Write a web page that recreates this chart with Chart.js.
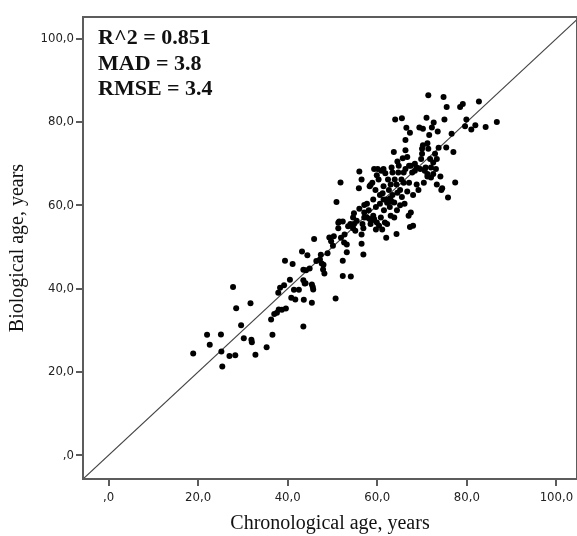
<!DOCTYPE html>
<html>
<head>
<meta charset="utf-8">
<script src="https://cdn.jsdelivr.net/npm/chart.js@4.4.1/dist/chart.umd.min.js"></script>
<style>
  html, body { margin: 0; padding: 0; background: #fff; }
  #wrap { width: 577px; height: 536px; }
</style>
</head>
<body>
<div id="wrap"><canvas id="c" width="577" height="536"></canvas></div>
<script>
// ---- data ----
const chronologicalAge = [
  18.9,22.0,22.6,25.1,25.2,25.4,27.0,28.3,27.8,28.5,29.6,30.2,31.7,31.9,32.0,32.8,35.3,36.6,36.3,37.0,
  37.6,38.0,38.7,39.6,38.3,39.2,39.4,40.5,41.1,41.4,40.8,41.7,43.5,43.6,43.2,44.4,43.5,44.1,44.9,43.5,
  43.8,45.4,45.6,45.7,45.9,46.4,47.2,47.6,47.9,48.2,48.9,49.3,49.7,50.3,50.1,50.7,50.9,51.5,51.3,51.8,
  52.3,52.3,52.6,53.2,53.2,52.3,53.5,54.1,54.6,54.8,55.4,55.9,56.0,56.5,56.5,56.5,56.9,56.7,57.1,57.1,
  57.7,57.7,58.1,58.3,58.5,58.9,59.1,59.1,59.3,59.6,59.7,59.7,60.1,60.3,60.6,60.6,60.8,61.1,61.4,61.4,
  61.5,61.8,62.0,62.0,62.2,62.4,62.6,62.8,63.0,63.2,63.4,63.4,63.7,63.8,64.0,64.3,64.3,64.4,64.7,64.8,
  65.1,65.5,65.5,65.9,66.1,66.3,66.3,66.5,66.7,66.7,67.0,67.1,67.3,67.3,67.5,67.5,67.8,68.0,68.4,68.8,
  69.2,69.4,69.8,70.0,70.2,70.4,70.6,70.8,71.0,71.2,71.4,71.4,71.6,71.8,72.0,72.2,72.5,72.6,72.9,73.1,
  73.3,73.5,73.7,74.1,74.3,74.5,74.8,75.0,75.4,75.5,75.8,76.6,77.0,77.4,78.5,79.1,79.6,79.9,81.0,81.9,
  82.7,84.2,86.7,
  58.3,58.7,59.3,59.9,60.4,61.7,62.9,62.2,63.0,63.9,65.4,65.7,64.5,60.9,59.9,58.5,61.4,61.2,63.2,65.1,
  63.8,57.1,56.0,54.6,54.0,55.1,56.9,68.4,69.6,71.2,72.0,72.5,73.3,68.8,68.0,70.2,71.2,70.0,67.1,66.3,
  65.9,64.5,54.8,51.3,51.9,52.7,47.4,48.0,45.4,44.0,42.5,37.9
];
const biologicalAge = [
  24.4,28.9,26.5,29.0,24.9,21.3,23.8,24.0,40.4,35.3,31.2,28.1,36.5,27.7,27.1,24.1,25.9,28.9,32.6,33.9,
  34.2,35.0,34.9,35.2,40.2,40.8,46.7,42.1,45.9,39.7,37.8,37.4,30.9,37.3,48.9,48.0,44.5,44.4,44.8,42.0,
  41.2,36.6,40.4,39.8,51.9,46.6,47.0,46.0,44.6,43.6,48.5,52.3,51.4,52.6,50.3,37.6,60.8,56.1,54.5,65.5,
  46.7,43.0,51.1,48.7,50.6,56.1,55.0,42.9,54.5,58.1,56.3,64.1,68.1,66.2,53.0,50.8,48.2,55.5,58.3,60.1,
  60.4,57.1,58.8,64.6,55.5,65.4,61.4,57.5,68.7,63.7,59.6,54.2,68.7,66.2,62.5,60.4,57.1,54.2,68.7,64.6,
  58.8,67.7,61.4,52.2,55.5,66.2,63.7,59.6,57.5,69.1,67.9,62.5,72.8,60.7,80.6,65.0,53.1,58.8,67.9,69.5,
  63.7,80.9,62.0,67.9,60.4,75.7,73.2,78.6,71.6,63.3,57.5,65.4,77.4,54.8,69.5,58.3,67.9,55.1,68.3,69.1,
  63.7,78.7,71.1,73.6,78.4,65.4,68.3,69.1,81.0,66.9,86.4,73.6,76.9,71.1,69.1,78.7,67.5,79.9,72.4,68.7,
  65.0,77.7,73.8,66.9,63.7,64.1,86.0,80.6,73.9,83.6,61.9,77.2,72.8,65.5,83.6,84.3,79.0,80.6,78.2,79.2,
  84.9,78.8,80.0,
  56.7,56.3,56.7,55.9,55.1,55.9,61.7,60.6,65.0,66.2,66.2,71.3,70.5,68.3,67.2,64.9,61.4,62.9,60.9,60.0,
  57.1,57.1,59.2,57.1,55.5,53.9,54.5,70.0,68.7,67.5,66.7,70.3,71.1,65.0,62.5,74.4,74.9,72.4,69.5,68.7,
  65.4,63.0,55.5,55.8,52.2,53.0,48.1,45.7,41.0,41.3,39.7,39.0
];
const axisTicks = [0, 20, 40, 60, 80, 100];
const axisTickLabels = [',0', '20,0', '40,0', '60,0', '80,0', '100,0'];
const axisMin = -5.7;
const xAxisMax = 104.6;
const yAxisMax = 105.2;
const referenceLine = [-5.7, 105.2];   // y = x identity line
const statsLines = ['R^2 = 0.851', 'MAD = 3.8', 'RMSE = 3.4'];
const xTitle = 'Chronological age, years';
const yTitle = 'Biological age, years';

// ---- build ----
const points = chronologicalAge.map((x, i) => ({ x: x, y: biologicalAge[i] }));
const linePts = referenceLine.map(v => ({ x: v, y: v }));

const tickFont = { family: '"Liberation Sans Narrow", "DejaVu Sans Condensed", "Arial Narrow", sans-serif', size: 13 };
const titleFont = { family: '"Liberation Serif", "Times New Roman", serif', size: 20 };
const axisColor = '#5c5c5c';

function setTicks(scale) {
  scale.ticks = axisTicks.map(v => ({ value: v }));
}
function tickLabel(value) {
  const i = axisTicks.indexOf(value);
  return i >= 0 ? axisTickLabels[i] : '';
}

const framePlugin = {
  id: 'frame',
  afterDatasetsDraw(chart) {
    const { ctx, chartArea: a } = chart;
    ctx.save();
    ctx.strokeStyle = axisColor;
    ctx.lineWidth = 2;
    ctx.strokeRect(a.left, a.top, a.right - a.left, a.bottom - a.top);
    ctx.restore();
  }
};
const statsPlugin = {
  id: 'stats',
  afterDraw(chart) {
    const { ctx, chartArea: a } = chart;
    ctx.save();
    ctx.fillStyle = '#111';
    ctx.font = 'bold 22px "Liberation Serif", "Times New Roman", serif';
    ctx.textAlign = 'left';
    ctx.textBaseline = 'alphabetic';
    statsLines.forEach((t, i) => ctx.fillText(t, a.left + 15, a.top + 27 + i * 25.6));
    ctx.restore();
  }
};

new Chart(document.getElementById('c'), {
  type: 'scatter',
  data: {
    datasets: [
      {
        type: 'line',
        data: linePts,
        borderColor: '#444',
        borderWidth: 1.2,
        pointRadius: 0,
        fill: false,
        order: 2
      },
      {
        data: points,
        backgroundColor: '#000',
        borderColor: '#000',
        borderWidth: 0,
        pointRadius: 3,
        order: 1
      }
    ]
  },
  plugins: [framePlugin, statsPlugin],
  options: {
    responsive: false,
    animation: false,
    events: [],
    layout: { autoPadding: false, padding: { top: 17, right: 0, left: 0, bottom: 0 } },
    plugins: { legend: { display: false }, tooltip: { enabled: false } },
    scales: {
      x: {
        type: 'linear',
        min: axisMin,
        max: xAxisMax,
        afterBuildTicks: setTicks,
        afterFit(scale) { scale.height = 57; scale.paddingLeft = 0; scale.paddingRight = 0; },
        border: { display: false },
        grid: { drawOnChartArea: false, drawTicks: true, tickLength: 7, color: axisColor, lineWidth: 2 },
        ticks: { font: tickFont, color: '#222', padding: 4, maxRotation: 0, callback: tickLabel },
        title: { display: true, text: xTitle, font: titleFont, color: '#111', padding: { top: 0, bottom: 0 } }
      },
      y: {
        type: 'linear',
        min: axisMin,
        max: yAxisMax,
        afterBuildTicks: setTicks,
        afterFit(scale) { scale.width = 83; scale.paddingTop = 0; scale.paddingBottom = 0; },
        border: { display: false },
        grid: { drawOnChartArea: false, drawTicks: true, tickLength: 7, color: axisColor, lineWidth: 2 },
        ticks: { font: tickFont, color: '#222', padding: 2, callback: tickLabel },
        title: { display: true, text: yTitle, font: titleFont, color: '#111', padding: { top: 6, bottom: 0 } }
      }
    }
  }
});
</script>
</body>
</html>
